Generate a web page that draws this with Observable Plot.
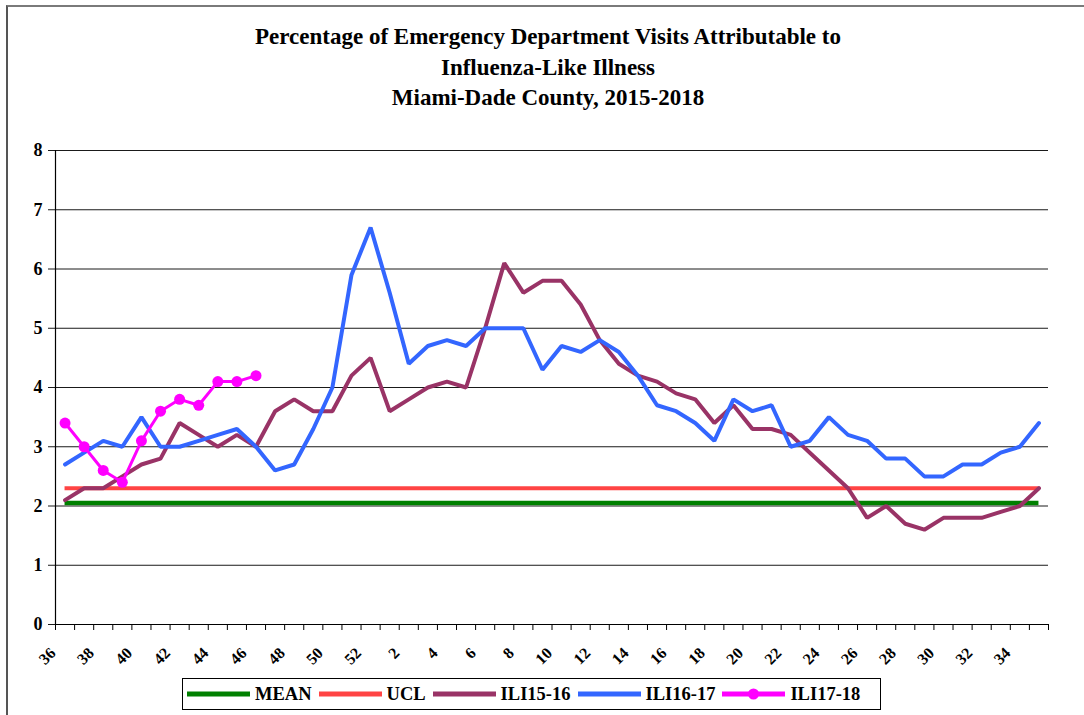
<!DOCTYPE html>
<html>
<head>
<meta charset="utf-8">
<script src="https://cdn.jsdelivr.net/npm/d3@7"></script>
<script src="https://cdn.jsdelivr.net/npm/@observablehq/plot@0.6"></script>
<style>
  html, body { margin: 0; padding: 0; background: #fff; }
  #wrap { position: relative; width: 1084px; height: 715px; overflow: hidden; font-family: "Liberation Serif", serif; }
  #frame { position: absolute; left: 6px; top: 5px; width: 1100px; height: 720px; border-top: 2px solid #7a7a7a; border-left: 2px solid #555; box-sizing: border-box; pointer-events: none; }
  #title { height: 118px; box-sizing: border-box; padding-top: 22px; padding-left: 12px; text-align: center; font-weight: bold; font-size: 23px; line-height: 30.5px; color: #000; }
  #title div { display: block; }
  #legend { position: absolute; left: 182px; top: 678px; width: 699px; height: 32px; border: 1.5px solid #000; box-sizing: border-box; display: flex; align-items: center; padding-left: 4px; font-weight: bold; font-size: 18.5px; }
  #legend .item { display: flex; align-items: center; margin-right: 7px; }
  #legend svg { margin-right: 5px; }
</style>
</head>
<body>
<div id="wrap">
  <div id="frame"></div>
  <div id="title">
    <div>Percentage of Emergency Department Visits Attributable to</div>
    <div>Influenza-Like Illness</div>
    <div>Miami-Dade County, 2015-2018</div>
  </div>
  <div id="chart"></div>
  <div id="legend"></div>
</div>
<script>
// ---- Data ----
const weeks = [36,37,38,39,40,41,42,43,44,45,46,47,48,49,50,51,52,
               1,2,3,4,5,6,7,8,9,10,11,12,13,14,15,16,17,18,19,20,
               21,22,23,24,25,26,27,28,29,30,31,32,33,34,35];
const ili1516 = [2.1,2.3,2.3,2.5,2.7,2.8,3.4,3.2,3.0,3.2,3.0,3.6,3.8,3.6,3.6,4.2,4.5,
                 3.6,3.8,4.0,4.1,4.0,5.0,6.1,5.6,5.8,5.8,5.4,4.8,4.4,4.2,4.1,3.9,3.8,3.4,3.7,3.3,
                 3.3,3.2,2.9,2.6,2.3,1.8,2.0,1.7,1.6,1.8,1.8,1.8,1.9,2.0,2.3];
const ili1617 = [2.7,2.9,3.1,3.0,3.5,3.0,3.0,3.1,3.2,3.3,3.0,2.6,2.7,3.3,4.0,5.9,6.7,
                 5.6,4.4,4.7,4.8,4.7,5.0,5.0,5.0,4.3,4.7,4.6,4.8,4.6,4.2,3.7,3.6,3.4,3.1,3.8,3.6,
                 3.7,3.0,3.1,3.5,3.2,3.1,2.8,2.8,2.5,2.5,2.7,2.7,2.9,3.0,3.4];
const ili1718 = [3.4,3.0,2.6,2.4,3.1,3.6,3.8,3.7,4.1,4.1,4.2];
const meanValue = 2.05;
const uclValue = 2.3;
const yTicks = [0,1,2,3,4,5,6,7,8];
const seriesNames = ["MEAN","UCL","ILI15-16","ILI16-17","ILI17-18"];
const seriesColors = ["#008000","#ff4444","#993366","#3366ff","#ff00ff"];

// ---- Build ----
const toRows = arr => arr.map((v, i) => ({i, v}));
const labelIdx = weeks.map((w, i) => i).filter(i => i % 2 === 0);
const tickIdx = d3.range(0, weeks.length + 1);
const lastIdx = weeks.length - 1;

const font = "Liberation Serif, serif";

const chart = Plot.plot({
  width: 1084,
  height: 558,
  marginLeft: 55,
  marginRight: 36,
  marginTop: 32,
  marginBottom: 52,
  style: {fontFamily: font, fontWeight: "bold", background: "transparent"},
  x: {type: "linear", domain: [0, weeks.length]},
  y: {domain: [0, 8]},
  marks: [
    Plot.gridY(yTicks, {stroke: "#1a1a1a", strokeOpacity: 1, strokeWidth: 1}),
    Plot.axisY(yTicks, {tickSize: 7, tickPadding: 6, fontSize: 18, label: null, stroke: "#1a1a1a", tickFormat: d => d}),
    Plot.ruleX([0], {stroke: "#000", strokeWidth: 1.2}),
    Plot.ruleY([0], {stroke: "#000", strokeWidth: 1.2}),
    Plot.axisX(tickIdx, {tickSize: 6, tickFormat: () => "", label: null, stroke: "#000"}),
    Plot.text(labelIdx, {
      x: i => i + 0.5, y: 0, text: i => String(weeks[i]),
      rotate: -45, textAnchor: "end", dx: -12, dy: 26, fontSize: 16, fontWeight: "bold"
    }),
    Plot.ruleY([meanValue], {x1: 0.5, x2: lastIdx + 0.5, stroke: seriesColors[0], strokeWidth: 4.5}),
    Plot.ruleY([uclValue], {x1: 0.5, x2: lastIdx + 0.5, stroke: seriesColors[1], strokeWidth: 4}),
    Plot.line(toRows(ili1516), {x: d => d.i + 0.5, y: "v", stroke: seriesColors[2], strokeWidth: 4, strokeLinejoin: "miter"}),
    Plot.line(toRows(ili1617), {x: d => d.i + 0.5, y: "v", stroke: seriesColors[3], strokeWidth: 4, strokeLinejoin: "miter"}),
    Plot.line(toRows(ili1718), {x: d => d.i + 0.5, y: "v", stroke: seriesColors[4], strokeWidth: 3}),
    Plot.dot(toRows(ili1718), {x: d => d.i + 0.5, y: "v", fill: seriesColors[4], r: 5.5})
  ]
});
document.getElementById("chart").appendChild(chart);

// ---- Legend ----
const legend = document.getElementById("legend");
seriesNames.forEach((name, k) => {
  const item = document.createElement("div");
  item.className = "item";
  const w = 63;
  let sw = `<svg width="${w}" height="12"><line x1="0" x2="${w}" y1="6" y2="6" stroke="${seriesColors[k]}" stroke-width="5"/>`;
  if (name === "ILI17-18") sw += `<circle cx="${w/2}" cy="6" r="5.5" fill="${seriesColors[k]}"/>`;
  sw += `</svg>`;
  item.innerHTML = sw + `<span>${name}</span>`;
  legend.appendChild(item);
});
</script>
</body>
</html>
